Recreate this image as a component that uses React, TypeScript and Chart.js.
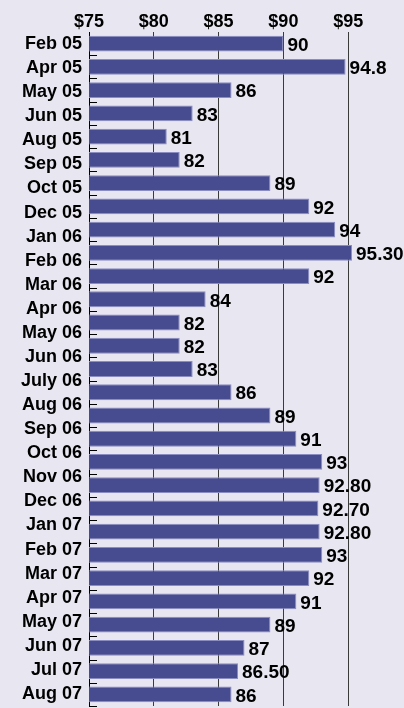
import React, { useEffect, useRef } from "react";
import { Chart, registerables } from "chart.js";

Chart.register(...registerables);

// 28 axis labels as printed in the source graphic
const categories = [
  "Feb 05", "Apr 05", "May 05", "Jun 05", "Aug 05", "Sep 05", "Oct 05", "Dec 05",
  "Jan 06", "Feb 06", "Mar 06", "Apr 06", "May 06", "Jun 06", "July 06", "Aug 06",
  "Sep 06", "Oct 06", "Nov 06", "Dec 06", "Jan 07", "Feb 07", "Mar 07", "Apr 07",
  "May 07", "Jun 07", "Jul 07", "Aug 07",
];
// 29 bars as printed in the source graphic (top to bottom)
const values = [
  90, 94.8, 86, 83, 81, 82, 89, 92,
  94, 95.3, 92, 84, 82, 82, 83, 86,
  89, 91, 93, 92.8, 92.7, 92.8, 93, 92,
  91, 89, 87, 86.5, 86,
];
const valueLabels = [
  "90", "94.8", "86", "83", "81", "82", "89", "92",
  "94", "95.30", "92", "84", "82", "82", "83", "86",
  "89", "91", "93", "92.80", "92.70", "92.80", "93", "92",
  "91", "89", "87", "86.50", "86",
];
const tickValues = [75, 80, 85, 90, 95];

const FONT = "'Liberation Sans', Arial, Helvetica, sans-serif";

export default function App() {
  const ref = useRef<HTMLCanvasElement | null>(null);

  useEffect(() => {
    document.body.style.margin = "0";
    const canvas = ref.current;
    if (!canvas) return;

    const sideTicks = {
      id: "sideTicks",
      afterDatasetsDraw(chart: any) {
        const ctx = chart.ctx;
        const area = chart.chartArea;
        const n = values.length;
        const step = (area.bottom - area.top) / n;
        ctx.save();
        ctx.strokeStyle = "#000";
        ctx.lineWidth = 1;
        for (let i = 1; i <= n; i++) {
          const py = Math.round(area.top + i * step) + 0.5;
          ctx.beginPath();
          ctx.moveTo(area.left, py);
          ctx.lineTo(area.left + 8, py);
          ctx.stroke();
        }
        ctx.restore();
      },
    };

    const barLabels = {
      id: "barLabels",
      afterDatasetsDraw(chart: any) {
        const ctx = chart.ctx;
        const meta = chart.getDatasetMeta(0);
        ctx.save();
        ctx.fillStyle = "#000";
        ctx.font = `bold 19px ${FONT}`;
        ctx.textAlign = "left";
        ctx.textBaseline = "middle";
        meta.data.forEach((bar: any, i: number) => {
          const label = valueLabels[i];
          if (label === undefined) return;
          ctx.fillText(label, bar.x + 4, bar.y + 2);
        });
        ctx.restore();
      },
    };

    const chart = new Chart(canvas, {
      type: "bar",
      data: {
        labels: values.map((_, i) => String(i)),
        datasets: [
          {
            data: values,
            backgroundColor: "#474b8f",
            borderColor: "#8a8dc2",
            borderWidth: 1,
            borderSkipped: false,
            barPercentage: 0.68,
            categoryPercentage: 1,
            yAxisID: "y",
          },
        ],
      },
      options: {
        indexAxis: "y",
        animation: false,
        responsive: false,
        maintainAspectRatio: false,
        layout: { padding: { top: 12, right: 4, bottom: 2, left: 0 } },
        plugins: {
          legend: { display: false },
          tooltip: { enabled: false },
        },
        scales: {
          x: {
            position: "top",
            min: 75,
            max: 99,
            afterBuildTicks: (scale: any) => {
              scale.ticks = tickValues.map((v) => ({ value: v }));
            },
            ticks: {
              callback: (v: any) => "$" + v,
              color: "#000",
              font: { family: FONT, size: 18, weight: "bold", lineHeight: 1 },
              padding: 1,
            },
            grid: {
              color: (c: any) => (c.tick && c.tick.value === 75 ? "#000" : "#3a3a3a"),
              lineWidth: 1,
              drawTicks: false,
            },
            border: { display: false },
          },
          y: {
            display: false,
            grid: { display: false },
          },
          yl: {
            type: "category",
            position: "left",
            labels: categories,
            offset: true,
            afterFit: (scale: any) => {
              scale.width = 89;
              scale.paddingTop = 0;
              scale.paddingBottom = 0;
            },
            ticks: {
              color: "#000",
              font: { family: FONT, size: 18, weight: "bold" },
              padding: 7,
              autoSkip: false,
            },
            grid: { display: false, drawTicks: false },
            border: { display: true, color: "#000", width: 1 },
          },
        },
      },
      plugins: [sideTicks, barLabels],
    });

    return () => chart.destroy();
  }, []);

  return (
    <div style={{ width: 404, height: 708, background: "#e8e6f0" }}>
      <canvas ref={ref} width={404} height={708} style={{ display: "block" }} />
    </div>
  );
}
